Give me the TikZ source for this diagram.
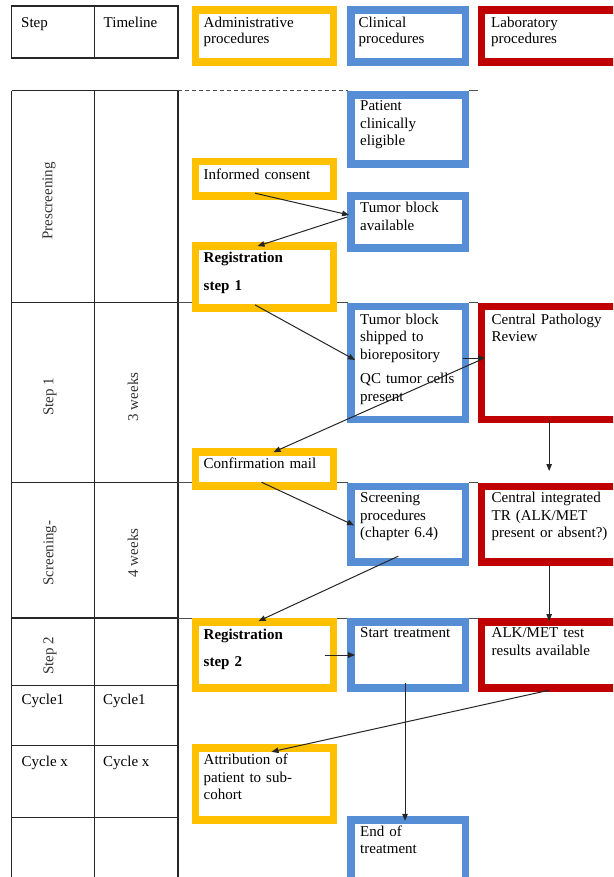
\documentclass[tikz,border=0pt]{standalone}
\usepackage{fontspec}
\setmainfont{Liberation Serif}
\usetikzlibrary{arrows.meta,calc}
\definecolor{adminc}{RGB}{255,192,0}
\definecolor{clinc}{RGB}{85,142,213}
\definecolor{labc}{RGB}{192,0,0}

% box: name, colour, x1, y1, x2, y2 (outer edges)
\newcommand\flowbox[6]{%
  \node[procbox, draw=#2, minimum width={#5-#3-7.6}, minimum height={#6-#4-7.6},
        anchor=north west] (#1) at ({#3+3.8},{#4+3.8}) {};}

\begin{document}
\begin{tikzpicture}[x=1pt,y=-1pt,
  procbox/.style={rectangle, line width=7.6pt, inner sep=0pt, outer sep=0pt, fill=white},
  boxtext/.style={anchor=base west, inner sep=0pt, text width=135pt, align=left,
                  font=\fontsize{15}{17.5}\selectfont},
  celltext/.style={anchor=base west, inner sep=0pt, font=\fontsize{15}{17.5}\selectfont},
  rottext/.style={rotate=90, inner sep=0pt, text=black!80, font=\fontsize{15}{17.5}\selectfont},
  grid/.style={line width=1.3pt, black!85},
  tick/.style={line width=1pt, black!70},
  flow/.style={-{Triangle[length=7pt,width=5.5pt]}, line width=1pt, black!85}
]
\useasboundingbox (0,0) rectangle (613,877);
\clip (0,0) rectangle (613,877);
\fill[white] (0,0) rectangle (613,877);

% ---- header row ----
\draw[grid] (11.7,6) rectangle (178,58);
\draw[grid] (94.5,6) -- (94.5,58);
\node[celltext] (hstep) at (21,27.5) {Step};
\node[celltext] (htime) at (103.5,27.5) {Timeline};

\flowbox{hadm}{adminc}{191.7}{6}{337.3}{66}
\flowbox{hclin}{clinc}{347.3}{6}{469.3}{66}
\flowbox{hlab}{labc}{477.7}{6}{630}{66}
\node[boxtext] (hadm-t) at (203.5,27.5) {Administrative\\[-1.5pt]procedures};
\node[boxtext] (hclin-t) at (358.5,27.5) {Clinical\\[-1.5pt]procedures};
\node[boxtext] (hlab-t) at (491,27.5) {Laboratory\\[-1.5pt]procedures};

% ---- main table ----
\draw[grid] (11.7,90.7) -- (178,90.7);
\foreach \yy in {302.7,482.7,618,685.3,745.3,817.3}
  \draw[grid] (11.7,\yy) -- (178,\yy);
\foreach \xx in {11.7,94.5,178}
  \draw[grid] (\xx,90.7) -- (\xx,880);

% faint grid continuation across the procedure columns
\draw[tick, dashed, dash pattern=on 4pt off 3pt] (178,90.7) -- (348,90.7);
\draw[tick] (469,90.7) -- (478,90.7);
\foreach \yy in {302.7,482.7,618}{
  \draw[tick] (178,\yy) -- (192,\yy);
  \draw[tick] (337,\yy) -- (348,\yy);
  \draw[tick] (469,\yy) -- (478,\yy);
}

\node[rottext] (lpre) at (49,201) {Prescreening};
\node[rottext] (ls1) at (50,397) {Step 1};
\node[rottext] (lw3) at (133,397) {3 weeks};
\node[rottext] (lscr) at (50,553) {Screening-};
\node[rottext] (lw4) at (133,553) {4 weeks};
\node[rottext] (ls2) at (50,656) {Step 2};
\node[celltext] (lc1a) at (21.5,704.5) {Cycle1};
\node[celltext] (lc1b) at (103,704.5) {Cycle1};
\node[celltext] (lcxa) at (21.5,766) {Cycle x};
\node[celltext] (lcxb) at (103,766) {Cycle x};

% ---- procedure boxes ----
\flowbox{pce}{clinc}{347.3}{91}{469.3}{167.7}
\flowbox{ic}{adminc}{191.7}{157.7}{337.3}{200}
\flowbox{tba}{clinc}{347.3}{192.3}{469.3}{251.7}
\flowbox{reg1}{adminc}{191.7}{242.3}{337.3}{311.7}
\flowbox{tbs}{clinc}{347.3}{302.7}{469.3}{423.3}
\flowbox{cpr}{labc}{477.7}{302.7}{630}{423.3}
\flowbox{conf}{adminc}{191.7}{448.3}{337.3}{490}
\flowbox{scr}{clinc}{347.3}{482.7}{469.3}{566}
\flowbox{cit}{labc}{477.7}{482.7}{630}{566}
\flowbox{reg2}{adminc}{191.7}{618.3}{337.3}{691.7}
\flowbox{st}{clinc}{347.3}{618.3}{469.3}{691.7}
\flowbox{alk}{labc}{477.7}{618.3}{630}{691.7}
\flowbox{attr}{adminc}{191.7}{744}{337.3}{824}
\flowbox{eot}{clinc}{347.3}{816}{469.3}{895}

\node[boxtext] (pce-t) at (360,111) {Patient\\clinically\\eligible};
\node[boxtext] (ic-t) at (203.5,179.5) {Informed consent};
\node[boxtext] (tba-t) at (360,212.5) {Tumor block\\available};
\node[boxtext, font=\fontsize{15}{17.5}\selectfont\bfseries] (reg1-t) at (203.5,262.5) {Registration\\[10.5pt]step 1};
\node[boxtext] (tbs-t) at (360,324) {Tumor block\\shipped to\\biorepository\\[7pt]QC tumor cells\\present};
\node[boxtext] (cpr-t) at (491.5,324) {Central Pathology\\Review};
\node[boxtext] (conf-t) at (203.5,468.5) {Confirmation mail};
\node[boxtext] (scr-t) at (360,502.5) {Screening\\procedures\\(chapter 6.4)};
\node[boxtext] (cit-t) at (491.5,502.5) {Central integrated\\TR (ALK/MET\\present or absent?)};
\node[boxtext, font=\fontsize{15}{17.5}\selectfont\bfseries] (reg2-t) at (203.5,639.5) {Registration\\[9pt]step 2};
\node[boxtext] (st-t) at (360,637.5) {Start treatment};
\node[boxtext] (alk-t) at (491.5,637.5) {ALK/MET test\\results available};
\node[boxtext] (attr-t) at (203.5,764.5) {Attribution of\\patient to sub-\\cohort};
\node[boxtext] (eot-t) at (360,836) {End of\\treatment};

% ---- flow arrows ----
\draw[flow] ([xshift=-9.5pt,yshift=3pt]ic.south) -- ([xshift=-2pt,yshift=7pt]tba.west);
\draw[flow] ([xshift=-4pt,yshift=5pt]tba.west) -- ([xshift=-7pt]reg1.north);
\draw[flow] ([xshift=-9.5pt,yshift=3pt]reg1.south) -- ([xshift=4pt,yshift=3pt]tbs.east -| tbs.west);
\draw[flow] ([xshift=-3pt,yshift=5pt]tbs.east) -- ([xshift=3.5pt,yshift=5pt]cpr.west);
\draw[flow] ([xshift=1pt,yshift=4pt]cpr.west) -- ([xshift=9pt]conf.north);
\draw[flow] ([xshift=-4.7pt]cpr.south) -- ([xshift=-4.7pt,yshift=15.5pt]cit.north);
\draw[flow] ([xshift=-3pt,yshift=4pt]conf.south) -- ([xshift=3pt,yshift=-1pt]scr.west);
\draw[flow] ([xshift=-10pt,yshift=6pt]scr.south) -- ([xshift=-6pt,yshift=1pt]reg2.north);
\draw[flow] ([xshift=-4.7pt,yshift=-4pt]cit.south) -- ([xshift=-4.7pt,yshift=1pt]alk.north);
\draw[flow] ([xshift=-9pt]reg2.east) -- ([xshift=4pt]st.west);
\draw[flow] ([xshift=-3.3pt,yshift=5pt]st.south) -- ([xshift=-3.3pt,yshift=-1pt]eot.north);
\draw[flow] ([xshift=-4.7pt,yshift=-2.3pt]alk.south) -- ([xshift=7pt,yshift=-4pt]attr.north);
\end{tikzpicture}
\end{document}
